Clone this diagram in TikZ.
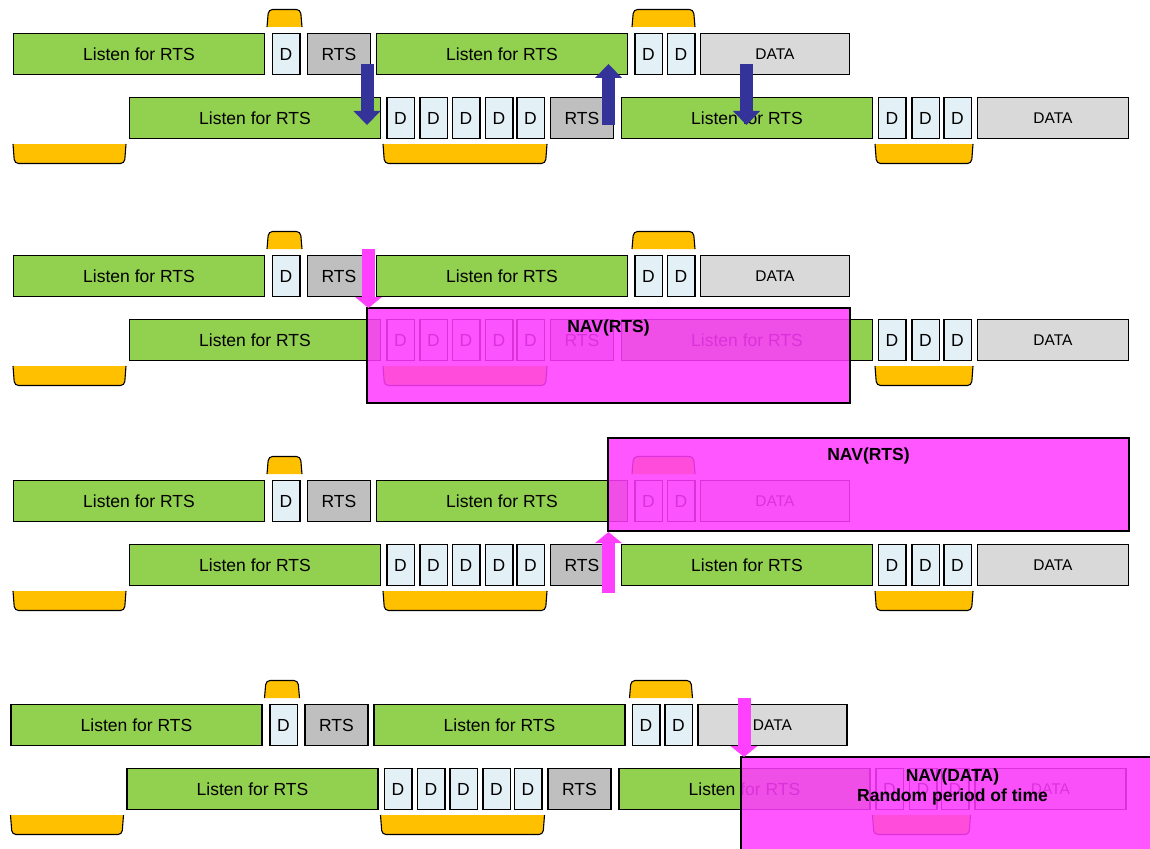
\documentclass[tikz,border=0pt]{standalone}
\usepackage{fontspec}
\setmainfont{Liberation Sans}
\usepackage{tikz}
\usetikzlibrary{positioning,arrows.meta}

\definecolor{lgreen}{RGB}{146,208,80}
\definecolor{dcell}{RGB}{227,241,246}
\definecolor{rtsgray}{RGB}{191,191,191}
\definecolor{datagray}{RGB}{217,217,217}
\definecolor{tabor}{RGB}{255,192,0}
\definecolor{navy}{RGB}{51,51,153}
\definecolor{navpink}{RGB}{255,64,255}
\definecolor{navfill}{RGB}{255,58,255}

\begin{document}
\begin{tikzpicture}[x=1pt, y=-1pt]
\tikzstyle{slot}=[draw, line width=1.5pt, inner sep=0pt, minimum height=41pt,
                  font=\fontsize{17.5}{20}\selectfont]
\tikzstyle{listen}=[slot, fill=lgreen, minimum width=251pt]
\tikzstyle{dd}=[slot, fill=dcell, minimum width=27.5pt]
\tikzstyle{rts}=[slot, fill=rtsgray, minimum width=63pt]
\tikzstyle{datab}=[slot, fill=datagray, minimum width=149pt,
                   font=\fontsize{15.5}{18}\selectfont]
\tikzstyle{tabbar}=[fill=tabor, draw, line width=1.1pt, rounded corners=4pt]
\tikzstyle{blubar}=[draw=navy, line width=13pt,
                    -{Triangle[length=14pt, width=27pt, line width=0pt]}]
\tikzstyle{pinkbar}=[draw=navpink, line width=13pt,
                     -{Triangle[length=11pt, width=27pt, line width=0pt]}]
\tikzstyle{nav}=[draw, line width=1.5pt, fill=navfill, fill opacity=0.86, inner sep=0pt]
\tikzstyle{navtext}=[inner sep=0pt, align=center, font=\fontsize{17.5}{20.5}\selectfont\bfseries]

\useasboundingbox (0,0) rectangle (1150,848);

\foreach \p/\dx/\dy in {1/0/0, 2/0/222, 3/0/447, 4/-2.5/671} {
\begin{scope}[shift={(\dx,\dy)}]
\node[listen] (la\p) at (139,54) {Listen for RTS};
\node[dd] (da\p) at (286,54) {D};
\node[rts] (ra\p) at (339,54) {RTS};
\node[listen] (lb\p) at (502,54) {Listen for RTS};
\node[dd] (db\p) at (648.5,54) {D};
\node[dd] (dc\p) at (681,54) {D};
\node[datab] (xa\p) at (775,54) {DATA};
\node[listen] (lc\p) at (255,118) {Listen for RTS};
\foreach \i/\x in {1/400.5, 2/433.5, 3/466, 4/499, 5/530.5}
  \node[dd] (e\i-\p) at (\x,118) {D};
\node[rts] (rb\p) at (582,118) {RTS};
\node[listen] (ld\p) at (747,118) {Listen for RTS};
\foreach \i/\x in {1/892, 2/925.5, 3/957.5}
  \node[dd] (f\i-\p) at (\x,118) {D};
\node[datab, minimum width=151pt] (xb\p) at (1053,118) {DATA};
\foreach \a/\b in {267/302, 632/695}
  \filldraw[tabbar] (\a,27) -- (\a+1.5,9.5) -- (\b-1.5,9.5) -- (\b,27);
\foreach \a/\b in {13/126, 383/547, 875/973}
  \filldraw[tabbar] (\a,144) -- (\a+1.5,163.5) -- (\b-1.5,163.5) -- (\b,144);
\end{scope}
}

\coordinate (a1) at (367,64);    \coordinate (b1) at (367,125);
\coordinate (a2) at (608.5,125); \coordinate (b2) at (608.5,64);
\coordinate (a3) at (746.5,64);  \coordinate (b3) at (746.5,125);
\draw[blubar] (a1) -- (b1);
\draw[blubar] (a2) -- (b2);
\draw[blubar] (a3) -- (b3);

\node[nav, minimum width=483pt, minimum height=95pt] (nav2) at (608.5,355.5) {};
\node[navtext, below=12.5pt of nav2.north] (nt2) {NAV(RTS)};
\node[nav, minimum width=521pt, minimum height=93pt] (nav3) at (868.5,484.5) {};
\node[navtext, below=10.5pt of nav3.north] (nt3) {NAV(RTS)};
\begin{scope}
\clip (0,0) rectangle (1150,848);
\node[nav, minimum width=423pt, minimum height=95pt] (nav4) at (952.5,804.5) {};
\end{scope}
\node[navtext, below=12pt of nav4.north] (nt4) {NAV(DATA)\\Random period of time};

\coordinate (a4) at (368.5,249); \coordinate (b4) at (368.5,308);
\coordinate (a5) at (608.5,593); \coordinate (b5) at (608.5,532);
\coordinate (a6) at (744,698);   \coordinate (b6) at (744,757);
\draw[pinkbar] (a4) -- (b4);
\draw[pinkbar] (a5) -- (b5);
\draw[pinkbar] (a6) -- (b6);
\end{tikzpicture}
\end{document}
